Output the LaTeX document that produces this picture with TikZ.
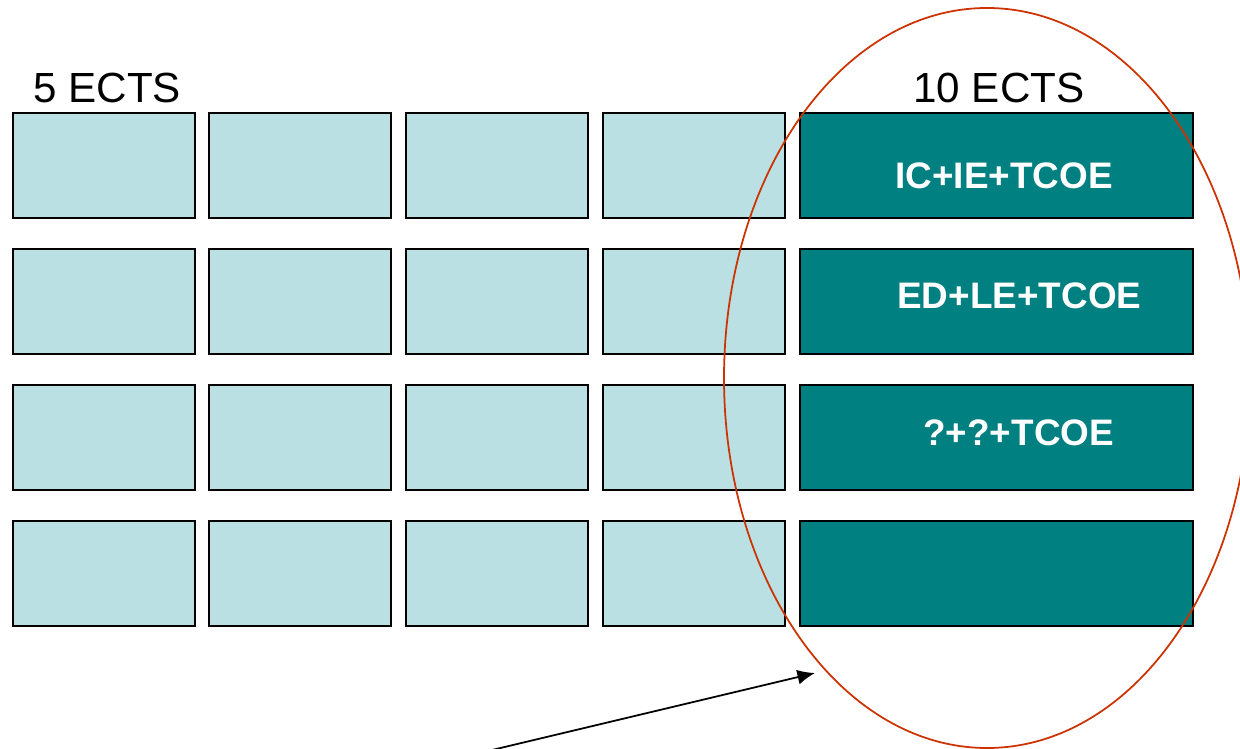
\documentclass[tikz,border=0pt]{standalone}
\usepackage{fontspec}
\setmainfont{Liberation Sans}
\usetikzlibrary{arrows.meta}
\definecolor{lightbox}{HTML}{BBE0E3}
\definecolor{tealbox}{HTML}{008080}
\definecolor{ringred}{HTML}{CC3300}
\begin{document}
\begin{tikzpicture}[x=0.02cm,y=-0.02cm,
  cell/.style={draw=black,line width=1.1pt,fill=lightbox},
  bigcell/.style={draw=black,line width=1.1pt,fill=tealbox},
  head/.style={anchor=base west,inner sep=0pt,font=\fontsize{24}{28}\selectfont},
  celltext/.style={anchor=base west,inner sep=0pt,text=white,font=\fontsize{21}{25}\selectfont\bfseries},
  ring/.style={draw=ringred,line width=1pt},
  pointer/.style={draw=black,line width=1pt,-{Latex[length=10pt,width=8.5pt]}}]
\useasboundingbox (0,0) rectangle (1240,749);
\foreach \r/\ya/\yb in {1/113/218,2/249/354,3/385/490,4/521/626}{
  \foreach \c/\xa/\xb in {1/13/195,2/209/391,3/406/588,4/603/785}{
    \path[cell] (\xa,\ya) rectangle (\xb,\yb) coordinate (c\r\c);
  }
  \path[bigcell] (800,\ya) rectangle (1193,\yb) coordinate (t\r);
}
\node[head] (h5) at (33,103) {5 ECTS};
\node[head] (h10) at (913,103) {10 ECTS};
\node[celltext] (l1) at (895,189) {IC+IE+TCOE};
\node[celltext] (l2) at (897,309) {ED+LE+TCOE};
\node[celltext] (l3) at (923,445) {?+?+TCOE};
\draw[ring] (987,378) ellipse [x radius=263, y radius=370];
\coordinate (a0) at (492,750);
\coordinate (a1) at (815,673);
\draw[pointer] (a0) -- (a1);
\end{tikzpicture}
\end{document}
